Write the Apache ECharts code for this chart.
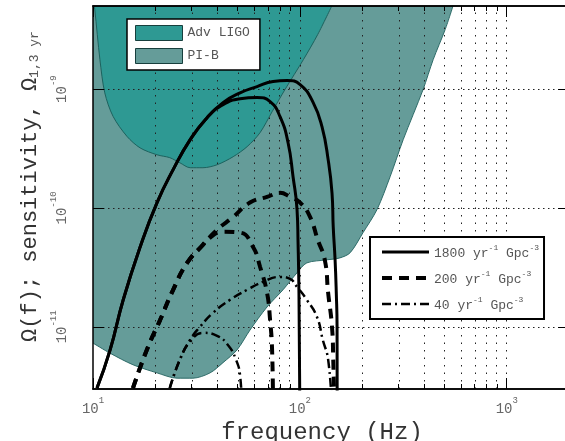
<!DOCTYPE html>
<html>
<head>
<meta charset="utf-8">
<script src="https://cdn.jsdelivr.net/npm/echarts@6/dist/echarts.min.js"></script>
<style>
html, body { margin: 0; padding: 0; background: #fff; }
#chart { width: 565px; height: 441px; }
</style>
</head>
<body>
<div id="chart"></div>
<script>
// axis ranges (Hz, Omega)
var freqMin = 10, freqMax = 2000;
var omegaMin = 3e-12, omegaMax = 5e-9;

// tick / grid positions
var majorFreq = [10, 100, 1000];
var minorFreq = [20, 30, 40, 50, 60, 70, 80, 90, 200, 300, 400, 500, 600, 700, 800, 900];
var gridFreq = [20, 30, 40, 50, 60, 70, 80, 90, 100, 200, 300, 400, 500, 600, 700, 800, 900, 1000];
var decadeOmega = [1e-11, 1e-10, 1e-9];

// detector sensitivity curves
var pibFreq = [10, 12.1, 15.6, 20.4, 25.5, 30.4, 36.8, 42.5, 49.7, 57.4, 69.4, 82.9, 96.9, 108, 135, 156, 175, 202, 236, 273, 316, 394, 441, 504, 551];
var pibOmega = [7.3e-12, 6.0e-12, 4.8e-12, 4.1e-12, 3.7e-12, 3.7e-12, 4.1e-12, 5.0e-12, 6.4e-12, 9.4e-12, 1.47e-11, 2.05e-11, 2.85e-11, 3.45e-11, 3.66e-11, 3.8e-11, 4.2e-11, 6.2e-11, 9.7e-11, 1.83e-10, 3.76e-10, 9.9e-10, 1.77e-9, 3.17e-9, 5.05e-9];
var ligoFreq = [10, 10.2, 10.8, 11.4, 12.5, 14.6, 16.9, 20.4, 23.5, 26.3, 29.5, 34.0, 39.8, 47.6, 55.6, 64.2, 73.4, 84.7, 104, 122, 143];
var ligoOmega = [6e-9, 4.68e-9, 1.77e-9, 9.3e-10, 5.9e-10, 4.0e-10, 3.2e-10, 2.8e-10, 2.65e-10, 2.4e-10, 2.18e-10, 2.18e-10, 2.31e-10, 2.7e-10, 3.28e-10, 4.3e-10, 6.45e-10, 9.9e-10, 1.77e-9, 2.88e-9, 5.05e-9];

// signal spectra, 1800 / 200 / 40 per yr per Gpc^3, two curves each
var r1800aFreq = [10.45, 12.1, 14.0, 16.9, 20.4, 24.4, 29.5, 35.6, 42.5, 51.4, 62.1, 74.2, 86.7, 100.3, 116, 128, 137, 143, 145, 148, 150, 151.3, 151.5];
var r1800aOmega = [3.05e-12, 6.4e-12, 1.69e-11, 4.7e-11, 1.11e-10, 2.1e-10, 3.76e-10, 5.75e-10, 7.7e-10, 9.3e-10, 1.05e-9, 1.16e-9, 1.18e-9, 1.09e-9, 7.7e-10, 4.8e-10, 2.55e-10, 1.34e-10, 6.9e-11, 3.66e-11, 1.93e-11, 1.0e-11, 2e-12];
var r1800bFreq = [10.45, 12.1, 14.0, 16.9, 20.4, 24.4, 29.5, 35.6, 42.5, 51.4, 62.1, 71.8, 80.2, 87.7, 92.7, 96.9, 98.0, 99.0, 100];
var r1800bOmega = [3.05e-12, 6.4e-12, 1.69e-11, 4.7e-11, 1.11e-10, 2.1e-10, 3.76e-10, 5.75e-10, 7.4e-10, 8.3e-10, 8.5e-10, 7.85e-10, 5.86e-10, 3.54e-10, 1.83e-10, 9.7e-11, 5.1e-11, 1.93e-11, 2e-12];
var r200aFreq = [15.6, 18.2, 21.1, 24.4, 28.5, 34.0, 39.8, 47.6, 57.4, 69.4, 80.2, 89.7, 100.3, 112, 122, 132, 137, 143, 145, 147];
var r200aOmega = [3.05e-12, 6.4e-12, 1.14e-11, 2.05e-11, 3.45e-11, 4.9e-11, 6.55e-11, 8.4e-11, 1.11e-10, 1.24e-10, 1.34e-10, 1.24e-10, 1.11e-10, 8.4e-11, 5.4e-11, 3.66e-11, 1.93e-11, 1.0e-11, 5.3e-12, 2e-12];
var r200bFreq = [15.6, 18.2, 21.1, 24.4, 28.5, 34.0, 35.6, 42.5, 51.4, 59.4, 64.2, 69.4, 71.8, 73.4, 74.2];
var r200bOmega = [3.05e-12, 6.4e-12, 1.14e-11, 2.05e-11, 3.45e-11, 4.9e-11, 5.4e-11, 6.3e-11, 6.2e-11, 4.7e-11, 3.2e-11, 1.93e-11, 1.14e-11, 6.4e-12, 2e-12];
var r40aFreq = [23.5, 26.3, 29.5, 32.9, 38.0, 46.0, 55.6, 66.4, 80.2, 89.7, 96.9, 108, 121, 129, 137, 143];
var r40aOmega = [3.05e-12, 5.3e-12, 7.8e-12, 1.0e-11, 1.31e-11, 1.69e-11, 2.05e-11, 2.39e-11, 2.63e-11, 2.53e-11, 2.17e-11, 1.69e-11, 1.21e-11, 7.8e-12, 5.3e-12, 2e-12];
var r40bFreq = [23.5, 26.3, 29.5, 34.0, 39.8, 45.0, 49.1, 51.4, 52.5];
var r40bOmega = [3.05e-12, 5.3e-12, 7.5e-12, 8.9e-12, 8.4e-12, 7.0e-12, 5.3e-12, 3.9e-12, 2e-12];

var rateNames = ['1800', '200', '40'];

var mono = 'Liberation Mono';
var lg = Math.log10;

function pts(fs, os) {
    return fs.map(function (f, i) { return [lg(f), lg(os[i])]; });
}

var dom = document.getElementById('chart');
var myChart = echarts.init(dom);

var supRich = {
    b: { fontFamily: mono, fontSize: 14, color: '#666', lineHeight: 20, verticalAlign: 'bottom' },
    s: { fontFamily: mono, fontSize: 9, color: '#666', lineHeight: 10, verticalAlign: 'top' }
};
function powLabel(v) {
    return '{b|10}{s|' + Math.round(v) + '}';
}

function curve(name, fs, os, style) {
    return {
        name: name,
        type: 'line',
        z: 6,
        symbol: 'none',
        smooth: 0.5,
        lineStyle: style,
        itemStyle: { color: '#000' },
        data: pts(fs, os)
    };
}
var solid = { color: '#000', width: 3, type: 'solid' };
var dashed = { color: '#000', width: 4, type: [10, 7] };
var dashdot = { color: '#000', width: 2.5, type: [9, 4, 2, 4] };

var gridLines = gridFreq.map(function (f) {
    return { xAxis: lg(f), lineStyle: { type: [1.5, 6] } };
}).concat(decadeOmega.map(function (o) {
    return { yAxis: lg(o), lineStyle: { type: [1.5, 3.5] } };
}));

function makeX(position, tickLen, tickVals, withLabel) {
    var ax = {
        type: 'value',
        position: position,
        min: lg(freqMin),
        max: lg(freqMax),
        z: 8,
        splitLine: { show: false },
        axisLine: { show: true, lineStyle: { color: '#000', width: 1.5 } },
        axisTick: { show: true, inside: true, length: tickLen, customValues: tickVals.map(lg), lineStyle: { color: '#000' } },
        axisLabel: { show: false }
    };
    if (withLabel) {
        ax.axisLabel = { show: true, margin: 7, customValues: tickVals.map(lg), formatter: powLabel, rich: supRich };
        ax.name = 'frequency (Hz)';
        ax.nameLocation = 'middle';
        ax.nameGap = 29;
        ax.nameTextStyle = { fontFamily: mono, fontSize: 24, color: '#333', padding: [0, 18, 0, 0] };
    }
    return ax;
}

function makeY(position, withLabel) {
    var ax = {
        type: 'value',
        position: position,
        min: lg(omegaMin),
        max: lg(omegaMax),
        z: 8,
        splitLine: { show: false },
        axisLine: { show: true, lineStyle: { color: '#000', width: 1.5 } },
        axisTick: { show: true, inside: true, length: 11, customValues: decadeOmega.map(lg), lineStyle: { color: '#000' } },
        axisLabel: { show: false }
    };
    if (withLabel) {
        ax.axisLabel = { show: true, rotate: 90, margin: 24, customValues: decadeOmega.map(lg), formatter: powLabel, rich: supRich };
        ax.name = 'Ω(f); sensitivity, Ω{sub|1,3 yr}';
        ax.nameLocation = 'middle';
        ax.nameRotate = 90;
        ax.nameGap = 48;
        ax.nameTextStyle = {
            fontFamily: mono, fontSize: 22, color: '#333', padding: [0, 0, 0, 22],
            rich: {
                sub: { fontFamily: mono, fontSize: 13, color: '#555', lineHeight: 13, padding: [26, 0, 0, 0], verticalAlign: 'bottom' }
            }
        };
    }
    return ax;
}

option = {
    animation: false,
    backgroundColor: '#fff',
    grid: {
        left: 93, top: 6, width: 476, height: 383,
        outerBoundsMode: 'none',
        containLabel: false
    },
    legend: [{
        data: [
            { name: 'Adv LIGO', icon: 'rect', itemStyle: { color: '#2e9993', borderColor: '#173f3d', borderWidth: 1 } },
            { name: 'PI-B', icon: 'rect', itemStyle: { color: '#659c99', borderColor: '#173f3d', borderWidth: 1 } }
        ],
        orient: 'vertical',
        left: 127, top: 19,
        padding: [6, 10, 6, 8],
        itemWidth: 47, itemHeight: 15, itemGap: 7,
        backgroundColor: '#fff',
        borderColor: '#000', borderWidth: 1.5, borderRadius: 0,
        selectedMode: false,
        z: 10,
        textStyle: { fontFamily: mono, fontSize: 13, color: '#555' }
    }, {
        data: rateNames,
        orient: 'vertical',
        left: 370, top: 237,
        padding: [7, 5, 7, 10],
        itemWidth: 47, itemHeight: 14, itemGap: 10,
        backgroundColor: '#fff',
        borderColor: '#000', borderWidth: 2, borderRadius: 0,
        selectedMode: false,
        z: 10,
        itemStyle: { opacity: 0 },
        lineStyle: { width: 'inherit' },
        formatter: function (name) {
            return '{n|' + name + ' yr}{s|-1}{n| Gpc}{s|-3}';
        },
        textStyle: {
            fontFamily: mono, fontSize: 13, color: '#555',
            rich: {
                n: { fontFamily: mono, fontSize: 13, color: '#555', lineHeight: 16, verticalAlign: 'bottom' },
                s: { fontFamily: mono, fontSize: 8, color: '#555', lineHeight: 9, verticalAlign: 'top' }
            }
        }
    }],
    xAxis: [
        makeX('bottom', 11, majorFreq, true),
        makeX('top', 11, majorFreq, false),
        makeX('bottom', 5, minorFreq, false),
        makeX('top', 5, minorFreq, false)
    ],
    yAxis: [makeY('left', true), makeY('right', false)],
    series: [{
        name: 'PI-B',
        type: 'line',
        z: 2,
        symbol: 'none',
        smooth: 0.3,
        itemStyle: { color: '#659c99' },
        lineStyle: { color: '#2c6a67', width: 1 },
        areaStyle: { color: '#659c99', opacity: 1, origin: 'end' },
        data: pts(pibFreq, pibOmega),
        markLine: {
            silent: true,
            symbol: ['none', 'none'],
            label: { show: false },
            z: 5,
            lineStyle: { color: '#222', width: 1 },
            data: gridLines
        }
    }, {
        name: 'Adv LIGO',
        type: 'line',
        z: 3,
        symbol: 'none',
        smooth: 0.3,
        itemStyle: { color: '#2e9993' },
        lineStyle: { color: '#1d625e', width: 1 },
        areaStyle: { color: '#2e9993', opacity: 1, origin: 'end' },
        data: pts(ligoFreq, ligoOmega)
    },
        curve('1800', r1800aFreq, r1800aOmega, solid),
        curve('1800', r1800bFreq, r1800bOmega, solid),
        curve('200', r200aFreq, r200aOmega, dashed),
        curve('200', r200bFreq, r200bOmega, dashed),
        curve('40', r40aFreq, r40aOmega, dashdot),
        curve('40', r40bFreq, r40bOmega, dashdot)
    ]
};

if (option && typeof option === 'object') {
    myChart.setOption(option, true);
}
window.addEventListener('resize', function () {
    myChart.resize();
});
</script>
</body>
</html>
